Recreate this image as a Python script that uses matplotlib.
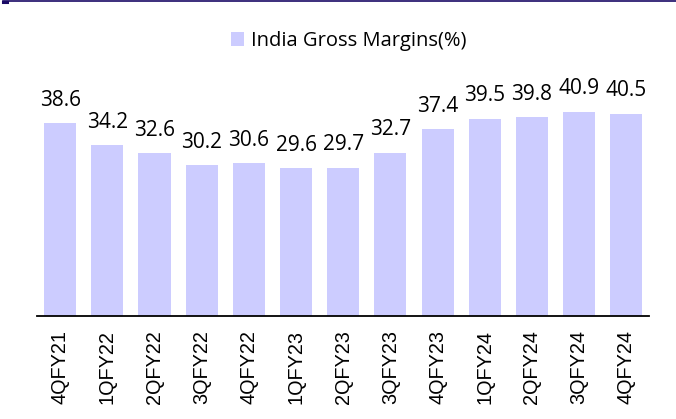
import matplotlib
matplotlib.use("Agg")
import matplotlib.pyplot as plt
from matplotlib.lines import Line2D

# quarters and India gross margin (%)
quarters = ["4QFY21", "1QFY22", "2QFY22", "3QFY22", "4QFY22", "1QFY23", "2QFY23",
            "3QFY23", "4QFY23", "1QFY24", "2QFY24", "3QFY24", "4QFY24"]
margins = [38.6, 34.2, 32.6, 30.2, 30.6, 29.6, 29.7, 32.7, 37.4, 39.5, 39.8, 40.9, 40.5]
series_name = "India Gross Margins(%)"
bar_color = "#ccccff"

fig = plt.figure(figsize=(6.76, 4.19), dpi=100)
ax = fig.add_axes([0.0547, 0.2458, 0.9053, 0.537])

x = list(range(len(margins)))
bars = ax.bar(x, margins, width=0.68, color=bar_color, label=series_name)
ax.set_xlim(-0.49, len(margins) - 1 + 0.48)
ax.set_ylim(0, 45)

# value labels above each bar
for xi, v in zip(x, margins):
    ax.annotate(f"{v}", (xi, v), xytext=(0, 9), textcoords="offset points",
                ha="center", va="bottom", fontsize=15, family="Open Sans", clip_on=False)

ax.set_xticks(x)
ax.set_xticklabels(quarters, rotation=90, fontsize=14.3, family="Liberation Sans")
ax.tick_params(axis="x", length=0, pad=10)
ax.set_yticks([])
for s in ["top", "right", "left"]:
    ax.spines[s].set_visible(False)
ax.spines["bottom"].set_linewidth(1.3)

fig.legend(handles=[bars], labels=[series_name], loc="center", bbox_to_anchor=(0.516, 0.902),
           frameon=False, handlelength=0.65, handleheight=0.65, handletextpad=0.35,
           prop={"family": "Open Sans", "size": 14.5})

# dark rule along the top edge
fig.add_artist(Line2D([0.004, 1], [0.9965, 0.9965], color="#1a0a66", lw=1.2, transform=fig.transFigure))
fig.add_artist(Line2D([0.004, 0.011], [0.995, 0.995], color="#1a0a66", lw=2.2, transform=fig.transFigure))

fig.savefig("out.png", dpi=100)
